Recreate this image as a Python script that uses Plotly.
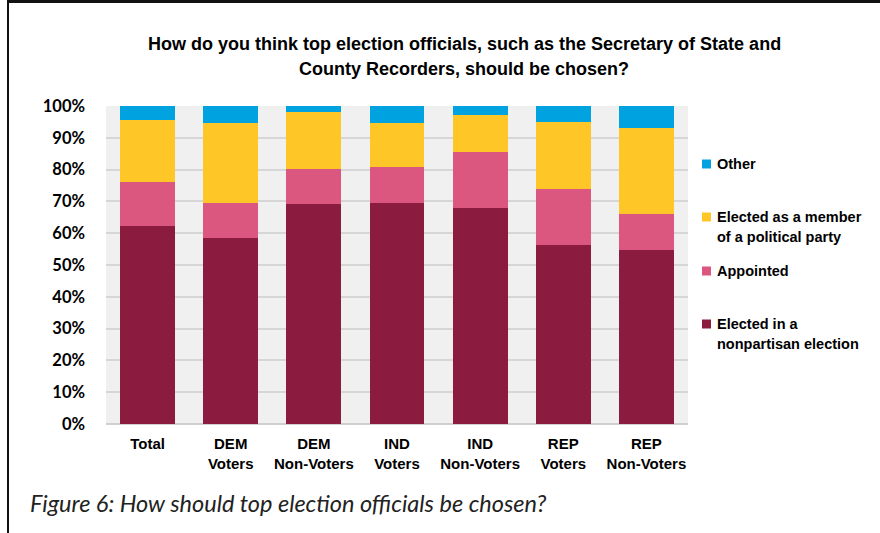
import plotly.graph_objects as go

categories = ["Total", "DEM<br>Voters", "DEM<br>Non-Voters", "IND<br>Voters",
              "IND<br>Non-Voters", "REP<br>Voters", "REP<br>Non-Voters"]
nonpartisan = [62.4, 58.6, 69.1, 69.6, 68.0, 56.4, 54.7]
appointed = [13.7, 10.8, 11.2, 11.1, 17.5, 17.5, 11.2]
party = [19.5, 25.4, 17.8, 13.9, 11.6, 21.2, 27.3]
other = [4.4, 5.2, 1.9, 5.4, 2.9, 4.9, 6.8]

series_names = ["Elected in a<br>nonpartisan election", "Appointed",
                "Elected as a member<br>of a political party", "Other"]
series_values = [nonpartisan, appointed, party, other]
series_colors = ["#8B1C40", "#DC5780", "#FEC627", "#00A3DF"]

y_ticks = [0, 10, 20, 30, 40, 50, 60, 70, 80, 90, 100]
y_tick_labels = [f"{v}%" for v in y_ticks]

SANS = "Liberation Sans, Arial, sans-serif"
CAL = "Lato, Open Sans, sans-serif"

fig = go.Figure()
for name, vals, col in zip(series_names, series_values, series_colors):
    fig.add_trace(go.Bar(x=categories, y=vals, name=name,
                         marker=dict(color=col, line=dict(width=0)),
                         showlegend=False))

# plot area in pixels
L, R, T, B = 106, 688, 106, 424
W, H = R - L, B - T
def px(x):
    return (x - L) / W
def py(y):
    return (B - y) / H

annotations = []
shapes = []
# manual legend (Other on top)
legend_rows = [(3, 164), (2, 217), (1, 271), (0, 324)]
for idx, ycen in legend_rows:
    lines = series_names[idx].split("<br>")
    for k, line in enumerate(lines):
        annotations.append(dict(xref="paper", yref="paper", x=px(715), y=py(ycen + 20 * k),
                                xanchor="left", yanchor="middle", showarrow=False,
                                text=f"<b>{line}</b>",
                                font=dict(family=SANS, size=14.5, color="#000000")))
    shapes.append(dict(type="rect", xref="paper", yref="paper",
                       x0=px(702), x1=px(711), y0=py(ycen - 4.5), y1=py(ycen + 4.5),
                       fillcolor=series_colors[idx], line=dict(width=0)))

# title
annotations.append(dict(xref="paper", yref="paper", x=px(464), y=py(44), xanchor="center",
                        yanchor="middle", showarrow=False,
                        text="<b>How do you think top election officials, such as the Secretary of State and</b>",
                        font=dict(family=SANS, size=18, color="#000000")))
annotations.append(dict(xref="paper", yref="paper", x=px(464), y=py(69), xanchor="center",
                        yanchor="middle", showarrow=False,
                        text="<b>County Recorders, should be chosen?</b>",
                        font=dict(family=SANS, size=18, color="#000000")))
# caption
annotations.append(dict(xref="paper", yref="paper", x=px(28), y=py(503), xanchor="left",
                        yanchor="middle", showarrow=False,
                        text="<i>Figure 6: How should top election officials be chosen?</i>",
                        font=dict(family=CAL, size=23.5, color="#222222")))

# border (top and left)
shapes.append(dict(type="line", xref="paper", yref="paper", x0=px(8), x1=px(8),
                   y0=py(1), y1=py(540), line=dict(color="#111111", width=2)))
shapes.append(dict(type="line", xref="paper", yref="paper", x0=px(7), x1=px(882),
                   y0=py(1.5), y1=py(1.5), line=dict(color="#111111", width=3)))

fig.update_layout(
    barmode="stack",
    bargap=0.34,
    width=880, height=533,
    margin=dict(l=L, r=880 - R, t=T, b=533 - B, pad=0),
    paper_bgcolor="#FFFFFF",
    plot_bgcolor="#F0F0F0",
    annotations=annotations,
    shapes=shapes,
    xaxis=dict(tickfont=dict(family=SANS, size=15, color="#000000"),
               showgrid=False, showline=False, ticks="", ticklabelstandoff=9,
               tickprefix="<b>", ticksuffix="</b>"),
    yaxis=dict(range=[0, 100], tickvals=y_ticks, ticktext=[f"<b>{t}</b>" for t in y_tick_labels],
               tickfont=dict(family=CAL, size=16.5, color="#000000"),
               showgrid=True, gridcolor="#D6D6D6", gridwidth=1.5, zeroline=True,
               zerolinecolor="#D0D0D0", zerolinewidth=1.5, ticks="", ticklabelstandoff=20),
)

fig.write_html("out.html", config={"displayModeBar": False},
               post_script="document.body.style.margin='0';document.body.style.padding='0';")
